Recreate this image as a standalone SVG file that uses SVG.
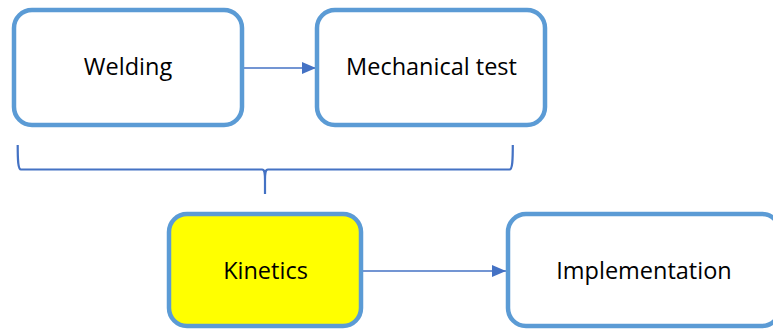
<svg xmlns="http://www.w3.org/2000/svg" width="773" height="330" viewBox="0 0 773 330">
<style>
.box{fill:#ffffff;stroke:#5B9BD5;stroke-width:4.5}
.hl{fill:#FFFF00}
.lbl{font-family:"Open Sans","Liberation Sans",sans-serif;font-size:23.5px;fill:#000;text-anchor:middle}
.con{stroke:#4472C4;stroke-width:1.6;fill:none}
.brace{stroke:#4472C4;stroke-width:2.2;fill:none}
</style>
<defs>
<marker id="ah" markerWidth="14" markerHeight="12" refX="14" refY="6" orient="auto" markerUnits="userSpaceOnUse" viewBox="0 0 14 12">
<path d="M0,0 L14,6 L0,12 Z" fill="#4472C4"/>
</marker>
</defs>
<rect width="773" height="330" fill="#ffffff"/>
<g id="connectors">
<path class="con" d="M244,68 H316" marker-end="url(#ah)"/>
<path class="con" d="M363,271 H506" marker-end="url(#ah)"/>
<path class="brace" d="M17.7,145 C17.7,160 18,169.5 21,169.5 H262 C264.5,169.5 265,172 265,180 V194 M265,180 C265,172 265.5,169.5 268,169.5 H509.5 C512.5,169.5 512.8,160 512.8,145"/>
</g>
<g id="welding">
<rect class="box" x="14" y="10" width="228" height="115" rx="18"/>
<text class="lbl" x="128" y="75">Welding</text>
</g>
<g id="mechanical-test">
<rect class="box" x="317" y="10" width="228" height="115" rx="18"/>
<text class="lbl" x="431.5" y="75">Mechanical test</text>
</g>
<g id="kinetics">
<rect class="box hl" x="169" y="214" width="192" height="112" rx="18"/>
<text class="lbl" x="265.5" y="279">Kinetics</text>
</g>
<g id="implementation">
<rect class="box" x="508" y="214" width="272" height="112" rx="18"/>
<text class="lbl" x="644" y="279">Implementation</text>
</g>
</svg>
